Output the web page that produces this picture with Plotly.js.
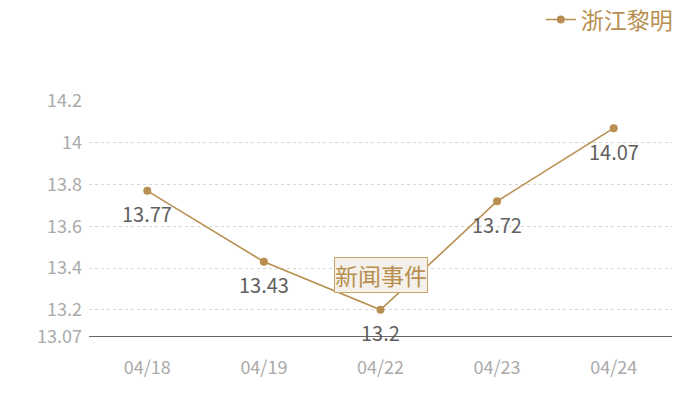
<!DOCTYPE html>
<html>
<head>
<meta charset="utf-8">
<script src="https://cdn.plot.ly/plotly-3.0.1.min.js"></script>
<style>
  html, body { margin: 0; padding: 0; background: #fff; }
  #chart { width: 700px; height: 400px; }
</style>
</head>
<body>
<div id="chart"></div>
<script>
const dates = ['04/18', '04/19', '04/22', '04/23', '04/24'];
const prices = [13.77, 13.43, 13.2, 13.72, 14.07];
const seriesName = '浙江黎明';
const yTicks = [13.07, 13.2, 13.4, 13.6, 13.8, 14, 14.2];
const eventLabel = '新闻事件';
const eventDate = '04/22';
const eventLevel = 13.365;

const GOLD = '#b88f50';
const FONT = '"Noto Sans CJK SC", "Open Sans", sans-serif';

const trace = {
  type: 'scatter',
  mode: 'lines+markers',
  name: seriesName,
  x: dates,
  y: prices,
  line: { color: GOLD, width: 1.6 },
  marker: { color: GOLD, size: 8 },
  cliponaxis: false
};

// value labels sit under each point
const valueLabels = dates.map((d, i) => ({
  x: d,
  y: prices[i],
  xref: 'x',
  yref: 'y',
  text: String(prices[i]),
  showarrow: false,
  yshift: -23,
  font: { family: FONT, size: 20, color: '#5f5f5f' }
}));

const layout = {
  width: 700,
  height: 400,
  margin: { l: 89, r: 28, t: 101, b: 63, autoexpand: false },
  paper_bgcolor: '#ffffff',
  plot_bgcolor: '#ffffff',
  font: { family: FONT, color: '#aaaaaa' },
  showlegend: true,
  legend: {
    orientation: 'h',
    x: 1.01,
    xanchor: 'right',
    y: 1.345,
    yanchor: 'middle',
    font: { family: FONT, size: 23, color: GOLD },
    itemwidth: 30
  },
  xaxis: {
    type: 'category',
    range: [-0.5, 4.5],
    showgrid: false,
    zeroline: false,
    showline: false,
    ticks: '',
    tickfont: { family: FONT, size: 18, color: '#aaaaaa' },
    ticklabelstandoff: 18,
    fixedrange: true
  },
  yaxis: {
    range: [13.07, 14.2],
    tickmode: 'array',
    tickvals: yTicks,
    ticktext: yTicks.map((v) => String(v)),
    showgrid: true,
    gridcolor: '#d6d6d6',
    griddash: 'dot',
    gridwidth: 1,
    zeroline: false,
    showline: false,
    ticks: '',
    tickfont: { family: FONT, size: 18, color: '#aaaaaa' },
    ticklabelstandoff: 6,
    fixedrange: true
  },
  shapes: [
    {
      type: 'line',
      xref: 'paper',
      yref: 'y',
      x0: 0,
      x1: 1,
      y0: 13.07,
      y1: 13.07,
      layer: 'above',
      line: { color: '#333333', width: 1.5 }
    }
  ],
  annotations: valueLabels.concat([
    {
      x: eventDate,
      y: eventLevel,
      xref: 'x',
      yref: 'y',
      text: eventLabel,
      showarrow: false,
      font: { family: FONT, size: 23, color: GOLD },
      bgcolor: '#f4f0ea',
      bordercolor: '#c9a46b',
      borderwidth: 1,
      borderpad: 0
    }
  ])
};

Plotly.newPlot('chart', [trace], layout, { displayModeBar: false, staticPlot: true });
</script>
</body>
</html>
